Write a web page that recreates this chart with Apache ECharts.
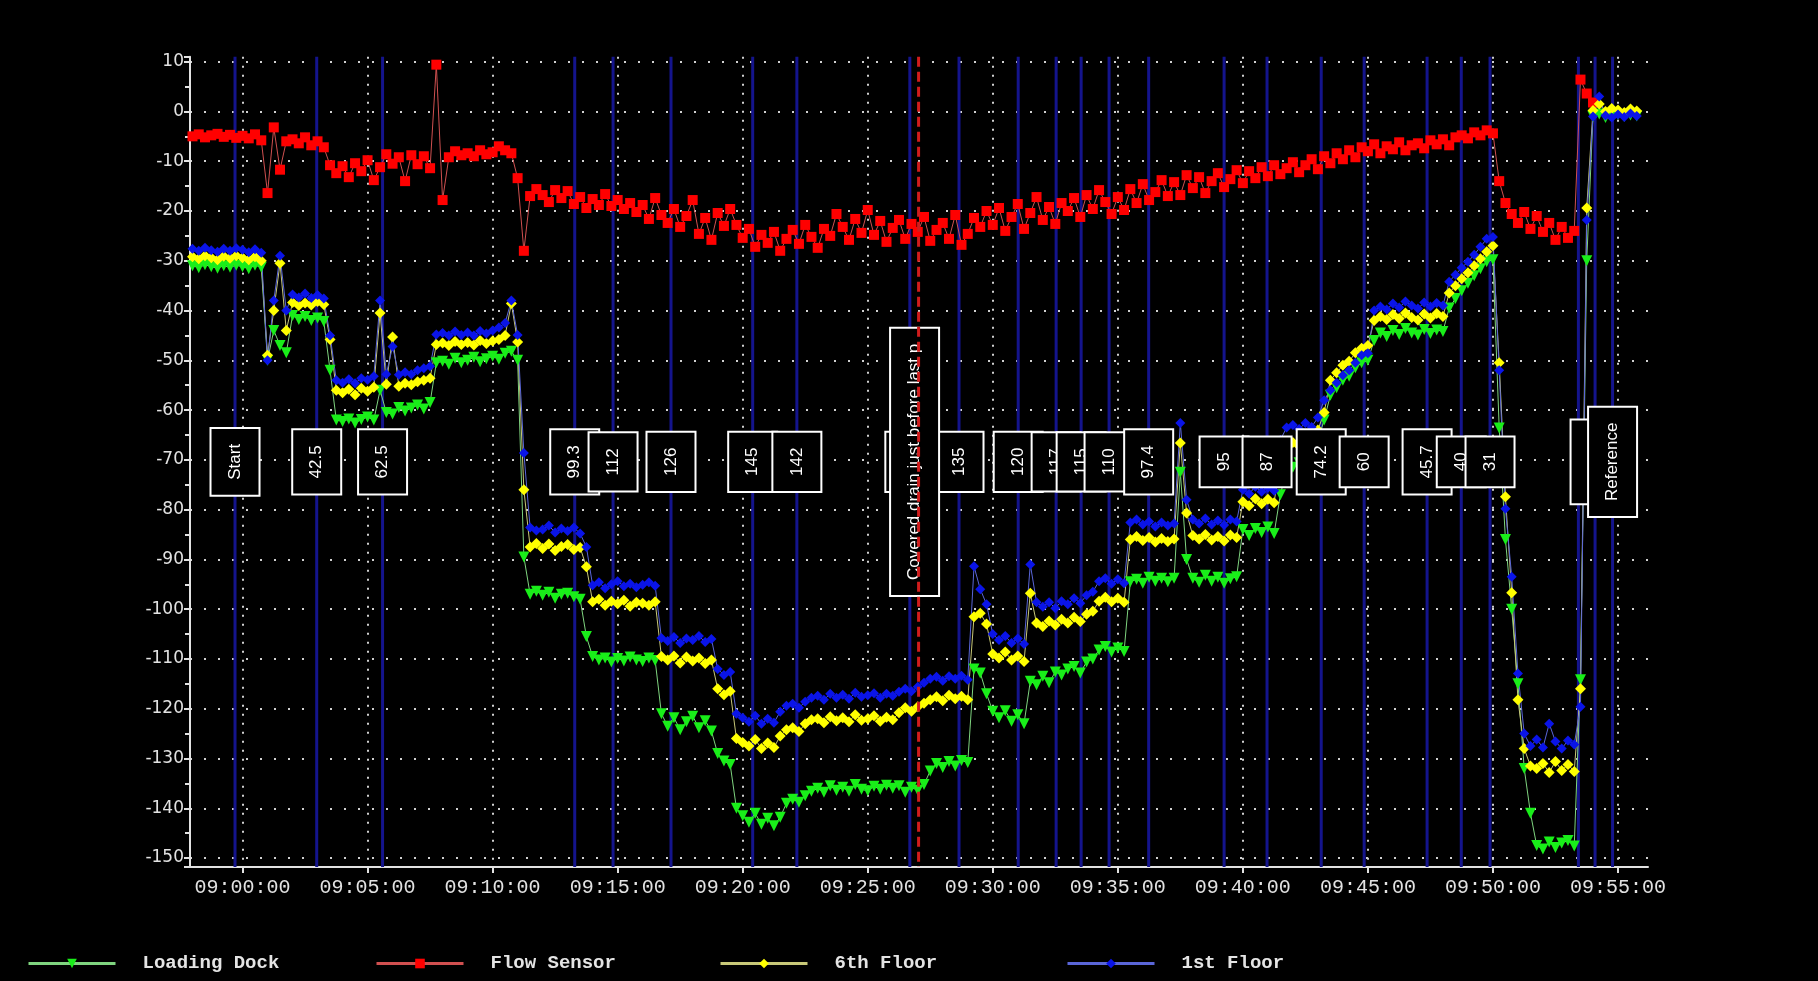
<!DOCTYPE html>
<html>
<head>
<meta charset="utf-8">
<script src="https://cdn.jsdelivr.net/npm/echarts@6/dist/echarts.min.js"></script>
<style>
  html, body { margin: 0; padding: 0; background: #000; }
  #chart { width: 1818px; height: 981px; }
</style>
</head>
<body>
<div id="chart"></div>
<script>
// Pressure readings logged every 15 s, starting 08:58:00
const sampleStart = '08:58:00';
const sampleStepSec = 15;

const loadingDock = [
  -31.0, -31.4, -30.8, -31.2,  -31.5, -31.0, -31.3, -30.9,  -31.2, -31.6, -30.9, -31.3,
  -50.0, -44.0, -47.0, -48.5,  -41.0, -41.8, -41.2, -42.0,  -41.5, -42.2, -52.0, -62.0,
  -62.3, -61.8, -62.6, -61.9,  -61.4, -62.0, -56.0, -60.5,  -60.8, -59.5, -60.2, -59.6,
  -59.0, -59.8, -58.5, -50.5,  -50.2, -50.8, -49.6, -50.5,  -50.0, -49.4, -50.3, -49.7,
  -49.2, -49.8, -48.6, -48.2,  -50.0, -89.5, -97.0, -96.4,  -97.2, -96.6, -97.8, -97.0,
  -96.8, -97.5, -98.0, -105.5, -109.5, -110.2, -109.8, -110.6, -109.9, -110.4, -109.6, -110.2,
  -110.5, -109.8, -110.3, -121.0, -123.5, -121.8, -124.2, -122.6, -121.5, -123.8, -122.4, -124.5,
  -129.0, -130.5, -131.2, -140.0, -141.5, -142.8, -141.0, -143.2, -142.0, -143.5, -141.8, -139.0,
  -138.2, -138.8, -137.5, -136.6, -136.0, -136.8, -135.5, -136.4, -135.8, -136.6, -135.2, -136.2,
  -136.5, -135.6, -136.2, -135.4, -136.0, -135.5, -136.8, -135.8, -136.4, -135.2, -132.5, -131.0,
  -131.8, -130.6, -131.5, -130.4, -130.8, -112.0, -112.8, -117.0, -120.5, -121.8, -120.4, -122.5,
  -121.2, -123.0, -114.5, -115.2, -113.5, -114.8, -112.6, -113.2, -112.0, -111.5, -112.8, -110.6,
  -110.0, -108.2, -107.5, -108.6, -107.8, -108.5, -94.5, -94.0,  -94.8, -93.6, -94.4, -93.8,
  -94.5, -93.8, -72.5, -90.0,  -93.8, -94.6, -93.2, -94.4,  -93.6, -94.8, -93.9, -93.5,
  -84.0, -85.2, -83.8, -84.6,  -83.5, -84.8, -77.0, -72.0,  -71.5, -70.6, -71.8, -70.2,
  -66.0, -62.0, -57.0, -55.5,  -54.0, -53.2, -51.5, -50.5,  -50.0, -46.0, -44.5, -45.2,
  -44.0, -44.8, -43.6, -44.5,  -44.9, -43.8, -44.6, -43.9,  -44.2, -39.5, -37.6, -36.0,
  -34.5, -33.0, -31.6, -30.2,  -29.8, -63.6, -86.0, -100.0, -115.0, -132.0, -141.0, -147.5,
  -148.2, -146.8, -147.9, -147.0, -146.5, -147.6, -114.2, -30.0, -1.0, -0.5, -1.2, -0.8,
  -0.6, -1.0, -0.7, -0.9
];

const flowSensor = [
  -5.0, -4.6, -5.2, -4.8,  -4.5, -5.1, -4.7, -5.3,  -4.9, -5.4, -4.6, -5.8,
  -16.4, -3.2, -11.7, -6.0,  -5.6, -6.4, -5.2, -6.8,  -6.0, -7.2, -10.8, -12.4,
  -11.0, -13.2, -10.4, -12.0,  -9.8, -13.8, -11.2, -8.6,  -10.5, -9.2, -14.0, -8.8,
  -10.6, -9.0, -11.4, 9.4,  -17.8, -9.2, -8.0, -8.8,  -8.4, -9.0, -7.8, -8.6,
  -8.2, -7.0, -7.8, -8.4,  -13.4, -28.0, -17.0, -15.6,  -16.8, -18.2, -15.8, -17.4,
  -16.0, -18.6, -17.2, -19.4,  -17.6, -18.8, -16.6, -19.0,  -17.8, -19.6, -18.4, -20.2,
  -18.8, -21.6, -17.4, -20.8,  -22.4, -19.6, -23.2, -21.0,  -17.8, -24.6, -21.4, -25.8,
  -20.4, -23.0, -19.6, -22.8,  -25.4, -23.6, -27.2, -24.8,  -26.4, -24.2, -28.0, -25.6,
  -23.8, -26.6, -22.8, -25.2,  -27.4, -23.6, -25.0, -20.6,  -23.2, -25.8, -21.6, -24.4,
  -19.8, -24.8, -22.0, -26.2,  -23.4, -21.8, -25.6, -22.6,  -24.2, -21.2, -26.0, -23.8,
  -22.4, -25.6, -20.8, -26.8,  -24.6, -21.4, -23.2, -20.0,  -22.8, -19.4, -24.0, -21.2,
  -18.6, -23.6, -20.4, -17.2,  -21.8, -19.2, -22.6, -18.4,  -20.0, -17.4, -21.2, -16.8,
  -19.6, -15.8, -18.2, -20.6,  -17.2, -19.8, -15.6, -18.4,  -14.6, -17.8, -16.2, -13.8,
  -17.0, -14.2, -16.8, -12.8,  -15.4, -13.2, -16.4, -14.0,  -12.4, -15.2, -13.6, -11.8,
  -14.4, -12.0, -13.4, -11.2,  -13.0, -10.8, -12.6, -11.4,  -10.2, -12.2, -10.8, -9.6,
  -11.6, -9.0, -10.4, -8.4,  -9.6, -7.8, -9.2, -7.2,  -8.0, -6.6, -8.4, -7.0,
  -7.6, -6.2, -7.8, -6.8,  -6.4, -7.4, -5.8, -6.6,  -5.6, -6.8, -5.2, -4.8,
  -5.4, -4.2, -4.8, -3.8,  -4.4, -14.0, -18.4, -20.6,  -22.4, -20.2, -23.6, -21.0,
  -24.2, -22.4, -25.8, -23.2,  -25.4, -24.0, 6.4, 3.6,  1.8
];

const sixthFloor = [
  -29.2, -29.6, -29.0, -29.4,  -29.8, -29.1, -29.5, -29.0,  -29.4, -29.8, -29.2, -30.0,
  -49.0, -40.0, -30.5, -44.0,  -38.4, -39.0, -38.5, -38.9,  -38.2, -38.8, -45.8, -56.0,
  -56.5, -55.8, -56.9, -55.6,  -56.2, -55.4, -40.5, -54.8,  -45.3, -55.2, -54.6, -54.9,
  -54.3, -54.0, -53.6, -46.8,  -46.5, -47.0, -46.2, -46.8,  -46.4, -46.9, -46.0, -46.6,
  -46.1, -45.8, -45.0, -38.6,  -46.3, -76.0, -87.5, -86.8,  -87.8, -86.9, -88.2, -87.4,
  -87.0, -88.0, -87.6, -91.5,  -98.5, -98.0, -99.2, -98.4,  -98.9, -98.2, -99.4, -98.6,
  -98.8, -99.2, -98.5, -109.5, -110.2, -109.4, -110.8, -109.6, -110.4, -109.8, -110.9, -110.2,
  -116.0, -117.2, -116.5, -126.0, -126.8, -127.5, -126.2, -128.0, -126.9, -127.8, -125.5, -124.2,
  -123.8, -124.6, -123.0, -122.2, -122.0, -122.8, -121.6, -122.4, -121.8, -122.6, -121.2, -122.3,
  -122.0, -121.4, -122.5, -121.7, -122.2, -120.8, -119.8, -120.5, -119.6, -118.9, -118.2, -117.6,
  -118.4, -117.3, -118.0, -117.5, -118.2, -101.5, -100.8, -103.0, -109.0, -109.8, -108.6, -110.2,
  -109.4, -110.5, -96.8, -102.8, -103.5, -102.4, -103.2, -102.0, -102.8, -101.6, -102.5, -101.0,
  -100.4, -98.4, -97.6, -98.5,  -97.8, -98.6, -86.0, -85.4,  -86.2, -85.6, -86.5, -85.8,
  -86.4, -85.9, -66.6, -80.7,  -85.2, -85.9, -85.0, -86.1,  -85.4, -86.3, -85.1, -85.6,
  -78.4, -79.2, -77.8, -78.8,  -77.9, -78.6, -70.0, -67.0,  -66.5, -67.2, -66.0, -66.8,
  -64.0, -60.5, -54.0, -52.5,  -51.0, -50.2, -48.5, -47.6,  -47.0, -42.0, -41.2, -41.8,
  -40.8, -41.6, -40.5, -41.4,  -41.9, -40.7, -41.5, -40.6,  -41.2, -36.5, -35.0, -33.6,
  -32.4, -31.0, -29.6, -28.2,  -27.0, -50.5, -77.4, -96.7,  -118.2, -128.0, -131.5, -132.0,
  -131.0, -132.8, -130.6, -132.4, -131.2, -132.6, -116.0, -19.4, 0.2, 1.5, 0.0, 0.6,
  0.3, -0.2, 0.5, 0.1
];

const firstFloor = [
  -27.6, -28.0, -27.4, -27.9,  -28.2, -27.6, -28.0, -27.5,  -27.8, -28.3, -27.7, -28.4,
  -50.0, -38.0, -29.0, -40.0,  -36.8, -37.4, -36.6, -37.5,  -36.9, -37.6, -45.0, -54.0,
  -54.5, -53.8, -54.6, -53.6,  -53.9, -53.2, -38.0, -52.8,  -47.2, -52.9, -52.4, -52.8,
  -52.0, -51.6, -51.2, -44.8,  -44.5, -45.0, -44.2, -44.9,  -44.4, -45.0, -44.1, -44.6,
  -44.0, -43.4, -42.5, -38.0,  -44.9, -68.6, -83.6, -84.2,  -84.0, -83.2, -84.6, -83.8,
  -84.3, -83.6, -84.8, -87.5,  -95.2, -94.6, -95.8, -95.0,  -94.4, -95.4, -94.9, -95.6,
  -95.1, -94.6, -95.3, -105.8, -106.4, -105.6, -106.8, -105.9, -106.2, -105.4, -106.6, -106.0,
  -112.0, -113.2, -112.6, -121.0, -121.8, -122.6, -121.4, -123.0, -122.0, -122.8, -120.6, -119.4,
  -119.0, -119.8, -118.6, -117.8, -117.4, -118.2, -117.0, -117.8, -117.2, -118.0, -116.8, -117.6,
  -117.3, -116.9, -117.8, -117.0, -117.4, -116.6, -116.0, -116.5, -115.6, -114.8, -114.0, -113.6,
  -114.4, -113.5, -114.0, -113.4, -114.2, -91.4, -96.0, -99.0,  -105.0, -106.2, -105.4, -106.8,
  -105.9, -107.0, -91.0, -98.6,  -99.5, -98.6, -99.8, -98.4,  -99.0, -97.8, -98.8, -97.2,
  -96.5, -94.4, -93.8, -94.9,  -94.0, -94.8, -82.6, -82.0,  -83.0, -82.4, -83.4, -82.6,
  -83.2, -82.8, -62.6, -78.0,  -82.0, -82.8, -81.8, -83.0,  -82.2, -83.1, -82.0, -82.4,
  -76.0, -76.8, -75.4, -76.4,  -75.6, -76.2, -66.0, -63.5,  -63.0, -63.8, -62.6, -63.4,
  -61.5, -58.0, -56.0, -54.5,  -53.0, -52.0, -50.5, -49.0,  -48.6, -40.0, -39.2, -39.8,
  -38.6, -39.4, -38.2, -39.0,  -39.6, -38.4, -39.2, -38.5,  -39.0, -34.2, -32.8, -31.4,
  -30.2, -28.8, -27.2, -25.6,  -25.2, -52.0, -79.8, -93.5,  -112.9, -125.0, -127.5, -126.2,
  -127.8, -123.0, -126.6, -128.0, -126.4, -127.2, -119.6, -21.8, -1.0, 3.0, -0.8, -1.2,
  -0.6, -1.1, -0.4, -0.9
];

// Event markers: time of each note and its text ('' = line only)
const eventTimes = [
  '08:59:42', '09:02:58', '09:05:36', '09:13:17', '09:14:49', '09:17:08', '09:20:24',
  '09:22:10', '09:26:41', '09:28:39', '09:31:01', '09:32:32', '09:33:32', '09:34:39',
  '09:36:14', '09:39:15', '09:40:58', '09:43:08', '09:44:51', '09:47:22', '09:48:44',
  '09:49:53', '09:53:25', '09:54:05', '09:54:47'
];
const eventLabels = [
  'Start', '42.5', '62.5', '99.3', '112', '126', '145',
  '142', '130', '135', '120', '117', '115', '110',
  '97.4', '95', '87', '74.2', '60', '45.7', '40',
  '31', '', 'Closed', 'Reference'
];
const drainTime = '09:27:02';
const drainLabel = 'Covered drain just before last p';

const seriesNames = ['Loading Dock', 'Flow Sensor', '6th Floor', '1st Floor'];
const clockOrigin = '09:00:00';
const axisStart = '08:57:54';
const axisEnd = '09:56:12';
const tickStepMin = 5;
const valueMin = -151.8;
const valueMax = 11;

// the time axis runs in minutes counted from clockOrigin
function secondsOf(hms) {
  const p = hms.split(':').map(Number);
  return p[0] * 3600 + p[1] * 60 + p[2];
}
const originSec = secondsOf(clockOrigin);
function toMin(hms) { return (secondsOf(hms) - originSec) / 60; }
function pad(n) { return (n < 10 ? '0' : '') + n; }
function clock(min) {
  const s = Math.round(originSec + min * 60);
  return pad(Math.floor(s / 3600)) + ':' + pad(Math.floor(s / 60) % 60) + ':' + pad(s % 60);
}
const m0 = toMin(sampleStart);
function toPairs(values) {
  return values.map((v, i) => [m0 + i * sampleStepSec / 60, v]);
}

const AXIS_COLOR = '#e2e2e2';
const GRID_COLOR = '#d0d0d0';

function dataSeries(name, values, marker, size, rotate, color, lineColor) {
  return {
    name: name,
    type: 'line',
    data: toPairs(values),
    symbol: marker,
    symbolSize: size,
    symbolRotate: rotate,
    showSymbol: true,
    showAllSymbol: true,
    itemStyle: { color: color },
    lineStyle: { color: lineColor, width: 1 },
    emphasis: { disabled: true },
    z: 3
  };
}

function legendAt(name, left) {
  return {
    data: [name],
    left: left,
    top: 949,
    itemWidth: 87,
    itemHeight: 12,
    selectedMode: false,
    lineStyle: { width: 3 },
    textStyle: {
      color: '#e4e4e4',
      fontFamily: 'Liberation Mono',
      fontWeight: 'bold',
      fontSize: 19,
      padding: [0, 0, 0, 22]
    }
  };
}

function noteText(label, x, y) {
  return {
    type: 'text',
    x: x,
    y: y,
    rotation: Math.PI / 2,
    style: {
      text: label,
      fill: '#ffffff',
      fontFamily: 'Liberation Sans',
      fontSize: 17,
      align: 'center',
      verticalAlign: 'middle',
      backgroundColor: '#000000',
      borderColor: '#ffffff',
      borderWidth: 2,
      padding: [15, 15]
    }
  };
}

const chart = echarts.init(document.getElementById('chart'), null, { renderer: 'canvas' });

const option = {
  backgroundColor: '#000',
  animation: false,
  grid: { left: 190, right: 170, top: 56.7, bottom: 114, outerBoundsMode: 'none' },
  legend: [
    legendAt(seriesNames[0], 22),
    legendAt(seriesNames[1], 370),
    legendAt(seriesNames[2], 714),
    legendAt(seriesNames[3], 1061)
  ],
  xAxis: {
    type: 'value',
    min: toMin(axisStart),
    max: toMin(axisEnd),
    minInterval: tickStepMin,
    maxInterval: tickStepMin,
    axisLine: { onZero: false, lineStyle: { color: AXIS_COLOR, width: 2 } },
    axisTick: { show: true, length: 6, lineStyle: { color: AXIS_COLOR, width: 2 } },
    axisLabel: {
      color: AXIS_COLOR,
      fontFamily: 'Liberation Mono',
      fontSize: 20,
      margin: 11,
      showMinLabel: false,
      showMaxLabel: false,
      formatter: clock
    },
    splitLine: {
      show: true,
      showMinLine: false,
      showMaxLine: false,
      lineStyle: { color: GRID_COLOR, width: 2, type: [2, 7] }
    }
  },
  yAxis: {
    type: 'value',
    min: valueMin,
    max: valueMax,
    minInterval: 10,
    maxInterval: 10,
    axisLine: { show: true, onZero: false, lineStyle: { color: AXIS_COLOR, width: 2 } },
    axisTick: { show: true, length: 6, lineStyle: { color: AXIS_COLOR, width: 2 } },
    minorTick: { show: true, splitNumber: 2, length: 5, lineStyle: { color: AXIS_COLOR, width: 2 } },
    axisLabel: {
      color: AXIS_COLOR,
      fontFamily: 'DejaVu Sans',
      fontSize: 17,
      margin: 6,
      showMinLabel: false,
      showMaxLabel: false
    },
    splitLine: {
      show: true,
      showMinLine: false,
      showMaxLine: false,
      lineStyle: { color: GRID_COLOR, width: 2, type: [2, 12] }
    }
  },
  series: [
    {
      // navy event lines behind the readings
      type: 'custom',
      name: 'event lines',
      data: eventTimes.map(t => [toMin(t)]),
      silent: true,
      z: 1,
      renderItem: function (params, api) {
        const cs = params.coordSys;
        const x = api.coord([api.value(0), valueMin])[0];
        return {
          type: 'line',
          shape: { x1: x, y1: cs.y, x2: x, y2: cs.y + cs.height },
          style: { stroke: '#14148c', lineWidth: 3 }
        };
      }
    },
    dataSeries(seriesNames[0], loadingDock, 'triangle', 11, 180, '#19ee19', '#7fd47f'),
    dataSeries(seriesNames[1], flowSensor, 'rect', 10, 0, '#ff0000', '#d05050'),
    dataSeries(seriesNames[2], sixthFloor, 'diamond', 11, 0, '#ffff00', '#c8c878'),
    dataSeries(seriesNames[3], firstFloor, 'diamond', 10, 0, '#0a14e8', '#5a66d8'),
    {
      // boxed event notes, text running upward
      type: 'custom',
      name: 'event notes',
      data: eventTimes.map(t => [toMin(t)]),
      silent: true,
      z: 5,
      renderItem: function (params, api) {
        const label = eventLabels[params.dataIndex];
        if (!label) return null;
        const cs = params.coordSys;
        const x = api.coord([api.value(0), valueMin])[0];
        return noteText(label, x, cs.y + cs.height / 2);
      }
    },
    {
      // dashed red drain line with its note
      type: 'custom',
      name: 'drain note',
      data: [[toMin(drainTime)]],
      silent: true,
      z: 6,
      renderItem: function (params, api) {
        const cs = params.coordSys;
        const x = api.coord([api.value(0), valueMin])[0];
        return {
          type: 'group',
          children: [
            noteText(drainLabel, x - 4, cs.y + cs.height / 2),
            {
              type: 'line',
              shape: { x1: x, y1: cs.y, x2: x, y2: cs.y + cs.height },
              style: { stroke: '#d01c1c', lineWidth: 3, lineDash: [10, 5] }
            }
          ]
        };
      }
    }
  ]
};

chart.setOption(option);
</script>
</body>
</html>
